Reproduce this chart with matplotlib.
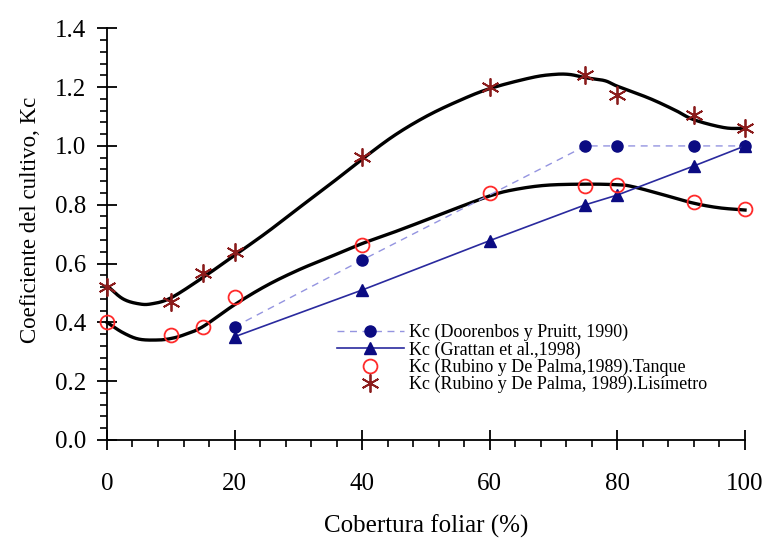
import numpy as np
import matplotlib
matplotlib.use("Agg")
import matplotlib.pyplot as plt
from matplotlib.ticker import MultipleLocator

plt.rcParams['font.family'] = ['Liberation Serif', 'DejaVu Serif']

# Kc measurements by ground cover (%)
door_x = [20, 40, 75, 80, 92, 100]
door_y = [0.385, 0.612, 1.00, 1.00, 1.00, 1.00]

grat_x = [20, 40, 60, 75, 80, 92, 100]
grat_y = [0.351, 0.51, 0.678, 0.80, 0.833, 0.932, 1.00]

tanq_x = [0, 10, 15, 20, 40, 60, 75, 80, 92, 100]
tanq_y = [0.40, 0.357, 0.383, 0.487, 0.663, 0.841, 0.864, 0.867, 0.81, 0.785]

lisi_x = [0, 10, 15, 20, 40, 60, 75, 80, 92, 100]
lisi_y = [0.521, 0.47, 0.567, 0.64, 0.964, 1.202, 1.241, 1.173, 1.105, 1.06]

# Hand-smoothed trend curves through the Rubino y De Palma data
up_x = [0, 2.5, 5, 7, 10, 15, 20, 25, 30, 35, 40, 45, 50, 55, 60, 66.5,
        70, 72.5, 75, 78, 80, 85, 89, 92, 96.8, 100]
up_y = [0.525, 0.48, 0.463, 0.463, 0.483, 0.552, 0.628, 0.705, 0.788, 0.870,
        0.955, 1.035, 1.100, 1.152, 1.195, 1.232, 1.243, 1.243, 1.232, 1.222,
        1.203, 1.162, 1.122, 1.089, 1.062, 1.06]

lo_x = [0, 2.5, 5, 8, 10, 12, 15, 20, 25, 30, 35, 40, 45, 50, 55, 60, 63.5,
        68.7, 75, 80, 82.3, 87, 91.6, 95.8, 100]
lo_y = [0.40, 0.365, 0.343, 0.340, 0.345, 0.357, 0.385, 0.46, 0.525, 0.578,
        0.623, 0.668, 0.707, 0.748, 0.79, 0.83, 0.85, 0.866, 0.87, 0.868,
        0.862, 0.835, 0.807, 0.79, 0.782]

x_ticks = [0, 20, 40, 60, 80, 100]
y_ticks = [0.0, 0.2, 0.4, 0.6, 0.8, 1.0, 1.2, 1.4]


def catmull_rom(xs, ys, n=24):
    """Smooth curve through the given knots (uniform Catmull-Rom)."""
    p = np.column_stack([xs, ys]).astype(float)
    p = np.vstack([2 * p[0] - p[1], p, 2 * p[-1] - p[-2]])
    out = []
    t = np.linspace(0, 1, n, endpoint=False)[:, None]
    for i in range(1, len(p) - 2):
        p0, p1, p2, p3 = p[i - 1], p[i], p[i + 1], p[i + 2]
        seg = 0.5 * ((2 * p1) + (-p0 + p2) * t
                     + (2 * p0 - 5 * p1 + 4 * p2 - p3) * t ** 2
                     + (-p0 + 3 * p1 - 3 * p2 + p3) * t ** 3)
        out.append(seg)
    out.append(p[-2][None, :])
    out = np.vstack(out)
    return out[:, 0], out[:, 1]


fig = plt.figure(figsize=(7.69, 5.38), dpi=100)
ax = fig.add_axes([0.1391, 0.1822, 0.8297, 0.7652])

navy = '#0b0b82'

cx, cy = catmull_rom(up_x, up_y)
ax.plot(cx, cy, color='black', lw=2.4, zorder=2, clip_on=False)
cx, cy = catmull_rom(lo_x, lo_y)
ax.plot(cx, cy, color='black', lw=2.4, zorder=2, clip_on=False)

ax.plot(door_x, door_y, linestyle=(0, (5, 4)), color='#9494e0', lw=1.0,
        marker='o', ms=8, mfc=navy, mec=navy, zorder=3, clip_on=False,
        label='Kc (Doorenbos y Pruitt, 1990)')
ax.plot(grat_x, grat_y, linestyle='-', color='#2a2a9e', lw=1.2,
        marker='^', ms=8, mfc=navy, mec=navy, zorder=3, clip_on=False,
        label='Kc (Grattan et al.,1998)')
ax.plot(tanq_x, tanq_y, linestyle='none', marker='o', ms=10, mfc='none',
        mec='#ff2a2a', mew=1.3, zorder=4, clip_on=False,
        label='Kc (Rubino y De Palma,1989).Tanque')
ax.plot(lisi_x, lisi_y, linestyle='none', marker=(6, 2, 0), ms=13,
        mec='#8b1c1c', mew=1.3, zorder=4, clip_on=False,
        label='Kc (Rubino y De Palma, 1989).Lisímetro')

ax.set_xlim(0, 100)
ax.set_ylim(0, 1.4)
ax.set_xticks(x_ticks)
ax.set_yticks(y_ticks)
ax.set_xticklabels([f'{v:d}' for v in x_ticks])
ax.set_yticklabels([f'{v:.1f}' for v in y_ticks])
ax.xaxis.set_minor_locator(MultipleLocator(4))
ax.yaxis.set_minor_locator(MultipleLocator(0.04))

for side in ('top', 'right'):
    ax.spines[side].set_visible(False)
for side in ('left', 'bottom'):
    ax.spines[side].set_linewidth(1.3)

ax.tick_params(which='major', direction='inout', length=14, width=1.3,
               labelsize=18)
ax.tick_params(which='minor', direction='out', length=5, width=1.2)
ax.tick_params(axis='x', which='major', pad=17)
ax.tick_params(axis='y', which='major', pad=8)

ax.set_xlabel('Cobertura foliar (%)', fontsize=18, labelpad=14)
ax.set_ylabel('Coeficiente del cultivo, Kc', fontsize=16.5)
ax.yaxis.set_label_coords(-0.104, 0.535)

ax.legend(loc='upper left', bbox_to_anchor=(337 / 769, 1 - 324 / 538),
          bbox_transform=fig.transFigure, frameon=False, fontsize=13,
          handlelength=3.7, handletextpad=0.3, labelspacing=0.0,
          borderpad=0, borderaxespad=0)

fig.savefig('out.png', dpi=100)
